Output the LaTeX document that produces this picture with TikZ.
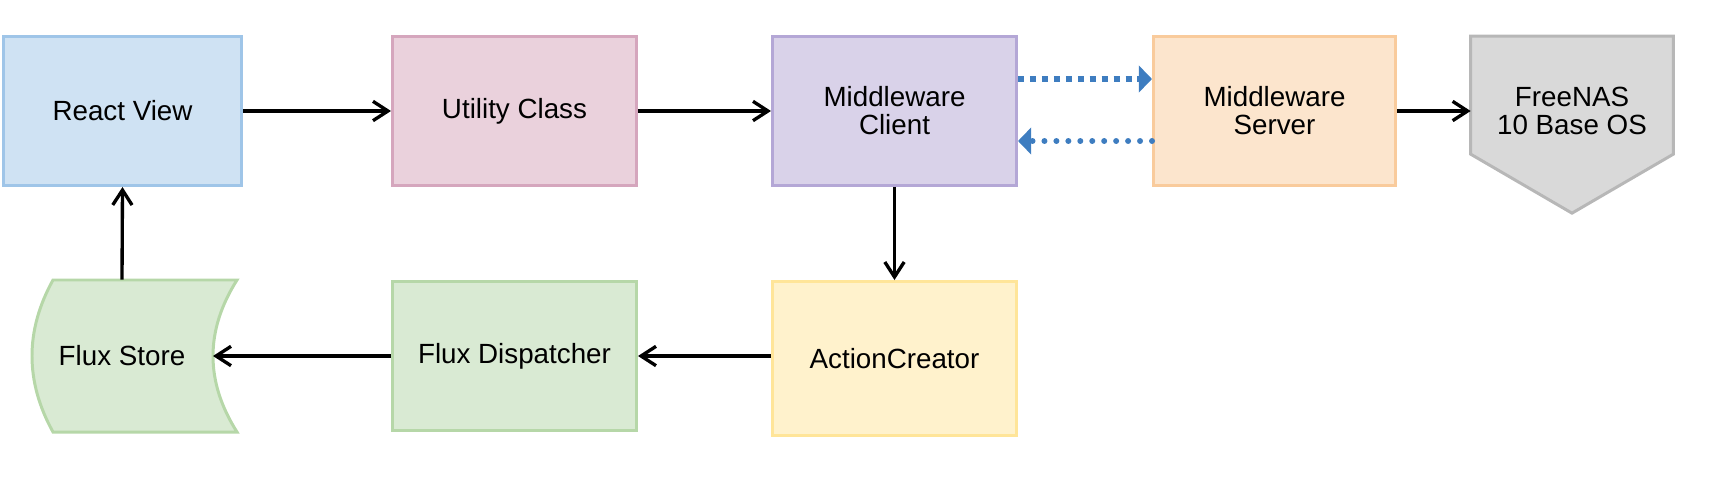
\documentclass[tikz,border=0pt]{standalone}
\usepackage{fontspec}
\setmainfont{Liberation Sans}
\usepackage{tikz}
\usetikzlibrary{positioning, arrows.meta, backgrounds, calc}
\definecolor{viewF}{HTML}{CFE2F3}
\definecolor{viewD}{HTML}{9FC5E8}
\definecolor{utilF}{HTML}{EAD1DC}
\definecolor{utilD}{HTML}{D5A6BD}
\definecolor{mwcF}{HTML}{D9D2E9}
\definecolor{mwcD}{HTML}{B4A7D6}
\definecolor{mwsF}{HTML}{FCE5CD}
\definecolor{mwsD}{HTML}{F9CB9C}
\definecolor{osF}{HTML}{D9D9D9}
\definecolor{osD}{HTML}{B7B7B7}
\definecolor{fluxF}{HTML}{D9EAD3}
\definecolor{fluxD}{HTML}{B6D7A8}
\definecolor{actF}{HTML}{FFF2CC}
\definecolor{actD}{HTML}{FFE599}
\definecolor{syncB}{HTML}{3E7DC0}
\newcommand{\flowfont}{\fontsize{15.8pt}{16pt}\selectfont}
\tikzset{
  box/.style   ={draw, rectangle, line width=1.7pt, align=center,
                 font=\flowfont, minimum width=4.88cm, minimum height=2.98cm,
                 inner sep=2pt},
  Bview/.style ={box, fill=viewF, draw=viewD, minimum width=4.76cm},
  Butil/.style ={box, fill=utilF, draw=utilD},
  Bmwc/.style  ={box, fill=mwcF, draw=mwcD},
  Bmws/.style  ={box, fill=mwsF, draw=mwsD, minimum width=4.84cm},
  Bflux/.style ={box, fill=fluxF, draw=fluxD},
  Bact/.style  ={box, fill=actF, draw=actD, minimum height=3.08cm},
  Btext/.style ={align=center, font=\flowfont, inner sep=0pt},
  shell/.style ={line width=1.7pt},
  flow/.style  ={-{Straight Barb[length=8.5pt, width=11pt]}, line width=1.9pt,
                 black},
  sync/.style  ={-{Triangle[length=7.5pt, width=15pt]}, line width=3.4pt,
                 syncB, dash pattern=on 3.4pt off 3.4pt},
}
\begin{document}
\begin{tikzpicture}

\useasboundingbox (0, 0) rectangle (34.48, -9.52);

\node[Bview] (RV) at (2.45, -2.22)  {React View};
\node[Butil] (UC) at (10.29, -2.22) {Utility Class};
\node[Bmwc]  (MC) at (17.89, -2.22) {Middleware\\Client};
\node[Bmws]  (MS) at (25.49, -2.22) {Middleware\\Server};
\node[Btext, minimum width=4.04cm, minimum height=2.98cm] (FN)
  at (31.44, -2.22) {FreeNAS\\10 Base OS};

\node[Bflux] (FD) at (10.29, -7.12) {Flux Dispatcher};
\node[Bact]  (AC) at (17.89, -7.17) {ActionCreator};
\node[Btext, minimum height=3.04cm] (FS) at (2.44, -7.12) {Flux Store};
\coordinate (FSin) at (4.26, -7.12);

\begin{scope}[on background layer]
  \draw[shell, fill=osF, draw=osD] (FN.north west) -- (FN.north east)
    -- ($(FN.north east)+(0,-2.36)$) -- ($(FN.north)+(0,-3.54)$)
    -- ($(FN.north west)+(0,-2.36)$) -- cycle;
  \draw[shell, fill=fluxF, draw=fluxD] (1.06, -5.6) -- (4.74, -5.6)
    .. controls (4.1, -6.61) and (4.1, -7.63) .. (4.74, -8.64)
    -- (1.06, -8.64)
    .. controls (0.5, -7.63) and (0.5, -6.61) .. cycle;
\end{scope}

\draw[flow] (RV.east) -- (UC.west);
\draw[flow] (UC.east) -- (MC.west);
\draw[flow] (MS.east) -- (MS.east -| FN.west);
\draw[flow] (MC.south) -- (AC.north);
\draw[flow] (FD.east -| AC.west) -- (FD.east);
\draw[flow] (FD.west) -- (FSin);
\draw[flow] (FS.north) -- (RV.south);

\draw[sync] ([yshift=6.4mm]MC.east) -- ([yshift=6.4mm]MS.west);
\draw[sync, line cap=round, dash pattern=on 0pt off 6.8pt]
  ([yshift=-6mm]MS.west) -- ([yshift=-6mm]MC.east);

\end{tikzpicture}
\end{document}
